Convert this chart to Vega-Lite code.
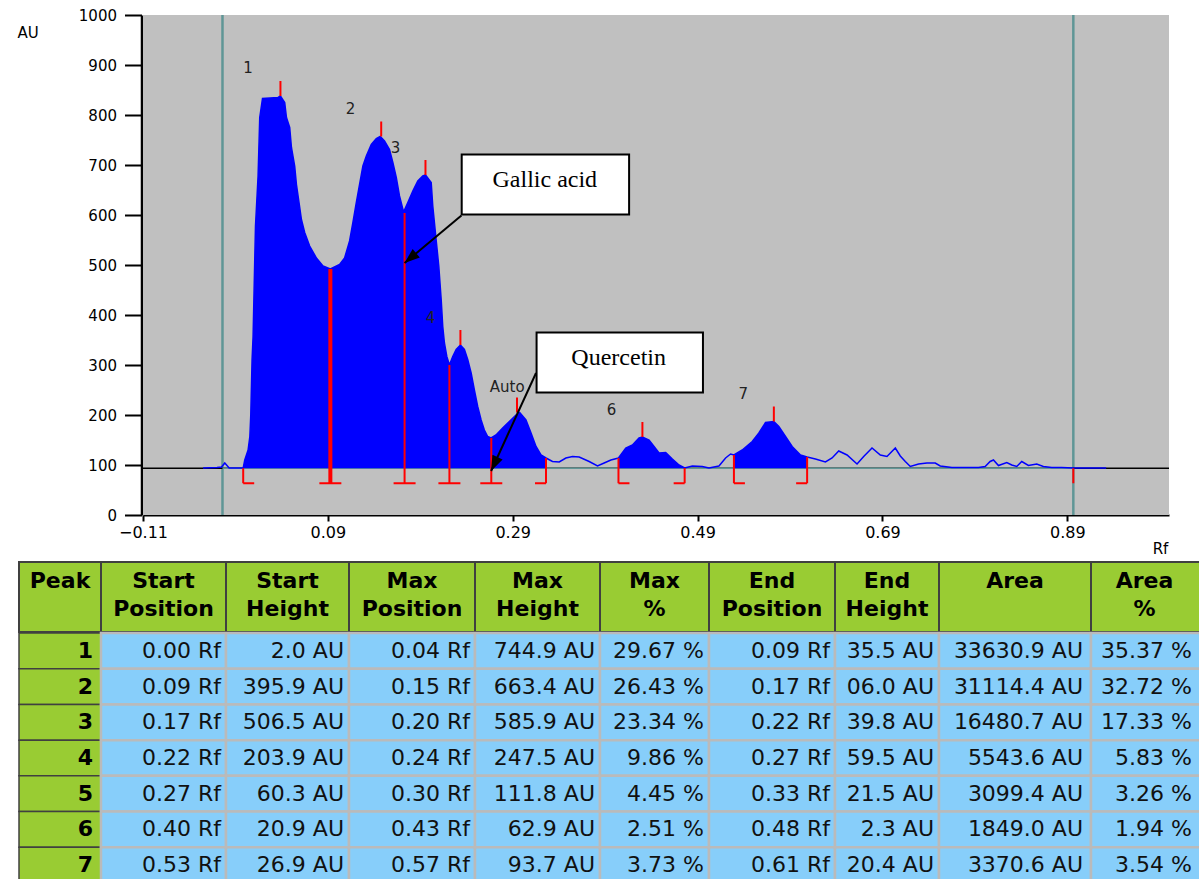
{
"$schema": "https://vega.github.io/schema/vega-lite/v6.json",
"autosize": "none",
"padding": 0,
"width": 1199,
"height": 879,
"background": "#ffffff",
"config": {
  "view": {"stroke": null},
  "axis": {"grid": false, "labelFont": "DejaVu Sans", "labelFontSize": 15, "labelColor": "#000", "domainColor": "#000", "tickColor": "#000", "titleFont": "DejaVu Sans", "titleFontSize": 15, "titleFontWeight": "normal", "titleColor": "#000", "labelFlush": false, "labelOverlap": false}
},
"datasets": {
  "sig": [
    {"rf":-0.045,"au":94},{"rf":-0.03,"au":95},{"rf":-0.025,"au":96},{"rf":-0.0215,"au":104},{"rf":-0.0196,"au":100},{"rf":-0.0168,"au":94},{"rf":-0.0034,"au":94},
    {"rf":-0.0016,"au":94,"g":"A"},{"rf":0.0001,"au":110,"g":"A"},{"rf":0.0037,"au":130,"g":"A"},{"rf":0.0056,"au":157,"g":"A"},{"rf":0.0066,"au":200,"g":"A"},{"rf":0.008,"au":310,"g":"A"},{"rf":0.0091,"au":357,"g":"A"},{"rf":0.0109,"au":511,"g":"A"},{"rf":0.0117,"au":578,"g":"A"},{"rf":0.0145,"au":678,"g":"A"},{"rf":0.0163,"au":795,"g":"A"},{"rf":0.0193,"au":833,"g":"A"},{"rf":0.0361,"au":835,"g":"A"},{"rf":0.0387,"au":838,"g":"A"},{"rf":0.0433,"au":825,"g":"A"},{"rf":0.0452,"au":795,"g":"A"},{"rf":0.0487,"au":775,"g":"A"},{"rf":0.0506,"au":735,"g":"A"},{"rf":0.0541,"au":698,"g":"A"},{"rf":0.056,"au":661,"g":"A"},{"rf":0.0588,"au":625,"g":"A"},{"rf":0.0614,"au":591,"g":"A"},{"rf":0.0649,"au":565,"g":"A"},{"rf":0.0703,"au":538,"g":"A"},{"rf":0.0776,"au":514,"g":"A"},{"rf":0.0847,"au":498,"g":"A"},{"rf":0.0927,"au":492,"g":"A"},
    {"rf":0.1027,"au":501,"g":"A"},{"rf":0.1081,"au":514,"g":"A"},{"rf":0.1135,"au":548,"g":"A"},{"rf":0.1171,"au":585,"g":"A"},{"rf":0.1208,"au":625,"g":"A"},{"rf":0.1243,"au":661,"g":"A"},{"rf":0.1279,"au":698,"g":"A"},{"rf":0.1316,"au":718,"g":"A"},{"rf":0.137,"au":741,"g":"A"},{"rf":0.1424,"au":753,"g":"A"},{"rf":0.1466,"au":757,"g":"A"},{"rf":0.1513,"au":748,"g":"A"},{"rf":0.1567,"au":731,"g":"A"},{"rf":0.1603,"au":705,"g":"A"},{"rf":0.164,"au":675,"g":"A"},{"rf":0.1675,"au":638,"g":"A"},{"rf":0.1719,"au":606,"g":"A"},
    {"rf":0.1765,"au":625,"g":"A"},{"rf":0.1819,"au":648,"g":"A"},{"rf":0.1873,"au":668,"g":"A"},{"rf":0.1927,"au":678,"g":"A"},{"rf":0.1956,"au":680,"g":"A"},{"rf":0.2018,"au":665,"g":"A"},{"rf":0.2035,"au":618,"g":"A"},{"rf":0.2071,"au":551,"g":"A"},{"rf":0.21,"au":498,"g":"A"},{"rf":0.2126,"au":431,"g":"A"},{"rf":0.2143,"au":377,"g":"A"},{"rf":0.2161,"au":344,"g":"A"},{"rf":0.2187,"au":317,"g":"A"},{"rf":0.2215,"au":300,"g":"A"},
    {"rf":0.2251,"au":317,"g":"A"},{"rf":0.2288,"au":331,"g":"A"},{"rf":0.2334,"au":340,"g":"A"},{"rf":0.2377,"au":331,"g":"A"},{"rf":0.2413,"au":311,"g":"A"},{"rf":0.245,"au":284,"g":"A"},{"rf":0.2485,"au":250,"g":"A"},{"rf":0.2521,"au":217,"g":"A"},{"rf":0.2558,"au":190,"g":"A"},{"rf":0.2593,"au":170,"g":"A"},{"rf":0.2629,"au":157,"g":"A"},{"rf":0.2666,"au":154,"g":"A"},
    {"rf":0.2719,"au":160,"g":"A"},{"rf":0.2791,"au":174,"g":"A"},{"rf":0.2863,"au":187,"g":"A"},{"rf":0.2935,"au":200,"g":"A"},{"rf":0.2975,"au":205,"g":"A"},{"rf":0.3043,"au":190,"g":"A"},{"rf":0.3098,"au":164,"g":"A"},{"rf":0.3152,"au":137,"g":"A"},{"rf":0.3206,"au":120,"g":"A"},{"rf":0.326,"au":114,"g":"A"},
    {"rf":0.333,"au":107},{"rf":0.3403,"au":106},{"rf":0.3475,"au":114},{"rf":0.3547,"au":117},{"rf":0.3619,"au":116},{"rf":0.3727,"au":107},{"rf":0.3817,"au":98},{"rf":0.3889,"au":104},{"rf":0.3962,"au":110},
    {"rf":0.4044,"au":114,"g":"B"},{"rf":0.4123,"au":134,"g":"B"},{"rf":0.4195,"au":140,"g":"B"},{"rf":0.4267,"au":154,"g":"B"},{"rf":0.4303,"au":156,"g":"B"},{"rf":0.4375,"au":150,"g":"B"},{"rf":0.4429,"au":137,"g":"B"},{"rf":0.4483,"au":124,"g":"B"},{"rf":0.4555,"au":125,"g":"B"},{"rf":0.4627,"au":112,"g":"B"},{"rf":0.4699,"au":100,"g":"B"},{"rf":0.476,"au":94,"g":"B"},
    {"rf":0.4843,"au":98},{"rf":0.4951,"au":97},{"rf":0.5023,"au":94},{"rf":0.5131,"au":98},{"rf":0.5203,"au":114},{"rf":0.5257,"au":122},
    {"rf":0.5293,"au":120,"g":"C"},{"rf":0.5383,"au":130,"g":"C"},{"rf":0.5491,"au":147,"g":"C"},{"rf":0.5563,"au":164,"g":"C"},{"rf":0.5635,"au":185,"g":"C"},{"rf":0.5725,"au":187,"g":"C"},{"rf":0.5779,"au":177,"g":"C"},{"rf":0.5851,"au":157,"g":"C"},{"rf":0.5923,"au":137,"g":"C"},{"rf":0.6013,"au":120,"g":"C"},{"rf":0.6085,"au":116,"g":"C"},
    {"rf":0.6175,"au":112},{"rf":0.6283,"au":106},{"rf":0.6355,"au":114},{"rf":0.6427,"au":128},{"rf":0.6517,"au":120},{"rf":0.6625,"au":102},{"rf":0.6697,"au":117},{"rf":0.6787,"au":134},{"rf":0.6877,"au":120},{"rf":0.6949,"au":117},{"rf":0.7039,"au":134},{"rf":0.7093,"au":118},{"rf":0.7147,"au":107},{"rf":0.7201,"au":97},{"rf":0.7291,"au":102},{"rf":0.7381,"au":104},{"rf":0.7471,"au":104},{"rf":0.7525,"au":98},{"rf":0.7651,"au":95},{"rf":0.7795,"au":95},{"rf":0.7939,"au":95},{"rf":0.8011,"au":97},{"rf":0.8065,"au":107},{"rf":0.8101,"au":110},{"rf":0.8155,"au":99},{"rf":0.8245,"au":105},{"rf":0.8299,"au":100},{"rf":0.8353,"au":97},{"rf":0.8407,"au":107},{"rf":0.8479,"au":99},{"rf":0.8569,"au":102},{"rf":0.8641,"au":97},{"rf":0.8731,"au":95},{"rf":0.8839,"au":95},{"rf":0.8965,"au":94},{"rf":0.932,"au":94}
  ],
  "bnd": [
    {"rf":-0.0016,"au":93.5,"kind":"start"},{"rf":0.0927,"au":492,"kind":"mid"},{"rf":0.173,"au":604,"kind":"mid"},{"rf":0.2215,"au":300,"kind":"mid"},{"rf":0.2668,"au":154,"kind":"mid"},{"rf":0.326,"au":114,"kind":"end"},{"rf":0.4044,"au":114,"kind":"start"},{"rf":0.476,"au":94,"kind":"end"},{"rf":0.5293,"au":120,"kind":"start"},{"rf":0.6085,"au":116,"kind":"end"},{"rf":0.8965,"au":93.5,"kind":"stop"}
  ],
  "pk": [
    {"rf":0.0387,"au":838},{"rf":0.1477,"au":757},{"rf":0.1956,"au":680},{"rf":0.2334,"au":340},{"rf":0.2946,"au":205},{"rf":0.4303,"au":156},{"rf":0.5725,"au":187}
  ],
  "lab": [
    {"t":"1","rf":0.0037,"au":895},{"t":"2","rf":0.1146,"au":813},{"t":"3","rf":0.1632,"au":735},{"t":"4","rf":0.201,"au":394},{"t":"Auto","rf":0.284,"au":257},{"t":"6","rf":0.397,"au":210},{"t":"7","rf":0.5393,"au":242}
  ],
  "ann": [
    {"name":"Gallic acid","bx1":0.2348,"bx2":0.4159,"by1":721,"by2":601,"tx":0.3247,"ty":671,"ax1":0.2345,"ay1":599,"ax2":0.173,"ay2":504},
    {"name":"Quercetin","bx1":0.3158,"bx2":0.4958,"by1":365,"by2":245,"tx":0.4046,"ty":314,"ax1":0.3152,"ay1":284,"ax2":0.2666,"ay2":88}
  ],
  "hdr": [
    {"col":"Peak","label":"Peak"},{"col":"Start Position","label":"Start\nPosition"},{"col":"Start Height","label":"Start\nHeight"},{"col":"Max Position","label":"Max\nPosition"},{"col":"Max Height","label":"Max\nHeight"},{"col":"Max %","label":"Max\n%"},{"col":"End Position","label":"End\nPosition"},{"col":"End Height","label":"End\nHeight"},{"col":"Area","label":"Area"},{"col":"Area %","label":"Area\n%"}
  ],
  "tbl": [
    {"Peak":"1","Start Position":"0.00 Rf","Start Height":"2.0 AU","Max Position":"0.04 Rf","Max Height":"744.9 AU","Max %":"29.67 %","End Position":"0.09 Rf","End Height":"35.5 AU","Area":"33630.9 AU","Area %":"35.37 %"},
    {"Peak":"2","Start Position":"0.09 Rf","Start Height":"395.9 AU","Max Position":"0.15 Rf","Max Height":"663.4 AU","Max %":"26.43 %","End Position":"0.17 Rf","End Height":"06.0 AU","Area":"31114.4 AU","Area %":"32.72 %"},
    {"Peak":"3","Start Position":"0.17 Rf","Start Height":"506.5 AU","Max Position":"0.20 Rf","Max Height":"585.9 AU","Max %":"23.34 %","End Position":"0.22 Rf","End Height":"39.8 AU","Area":"16480.7 AU","Area %":"17.33 %"},
    {"Peak":"4","Start Position":"0.22 Rf","Start Height":"203.9 AU","Max Position":"0.24 Rf","Max Height":"247.5 AU","Max %":"9.86 %","End Position":"0.27 Rf","End Height":"59.5 AU","Area":"5543.6 AU","Area %":"5.83 %"},
    {"Peak":"5","Start Position":"0.27 Rf","Start Height":"60.3 AU","Max Position":"0.30 Rf","Max Height":"111.8 AU","Max %":"4.45 %","End Position":"0.33 Rf","End Height":"21.5 AU","Area":"3099.4 AU","Area %":"3.26 %"},
    {"Peak":"6","Start Position":"0.40 Rf","Start Height":"20.9 AU","Max Position":"0.43 Rf","Max Height":"62.9 AU","Max %":"2.51 %","End Position":"0.48 Rf","End Height":"2.3 AU","Area":"1849.0 AU","Area %":"1.94 %"},
    {"Peak":"7","Start Position":"0.53 Rf","Start Height":"26.9 AU","Max Position":"0.57 Rf","Max Height":"93.7 AU","Max %":"3.73 %","End Position":"0.61 Rf","End Height":"20.4 AU","Area":"3370.6 AU","Area %":"3.54 %"}
  ]
},
"layer": [
  {
    "layer": [
      {"data": {"values": [{}]}, "mark": {"type": "rect", "fill": "#c0c0c0"},
       "encoding": {
         "x": {"datum": -0.11, "type": "quantitative", "scale": {"domain": [-0.11, 1.0], "range": [143, 1169], "nice": false, "zero": false},
               "axis": {"orient": "bottom", "offset": -364, "values": [-0.11, 0.09, 0.29, 0.49, 0.69, 0.89], "format": ".2f", "tickSize": 6, "tickWidth": 2, "domainWidth": 2, "labelPadding": 3, "labelFontSize": 16, "title": "Rf", "titleAngle": 0, "titleX": 1160, "titleY": 33, "titleAlign": "center", "titleBaseline": "middle"}},
         "x2": {"datum": 1.0},
         "y": {"datum": 0, "type": "quantitative", "scale": {"domain": [0, 1000], "range": [515, 15], "nice": false, "zero": false},
               "axis": {"orient": "left", "offset": -141.5, "values": [0, 100, 200, 300, 400, 500, 600, 700, 800, 900, 1000], "format": "d", "tickSize": 17, "tickWidth": 2, "domainWidth": 2.5, "labelPadding": 8, "labelFontSize": 15, "title": "AU", "titleAngle": 0, "titleX": -114, "titleY": 32, "titleAlign": "center", "titleBaseline": "middle"}},
         "y2": {"datum": 1000}
       }},
      {"data": {"values": [{"rf": -0.024}, {"rf": 0.8965}]}, "mark": {"type": "rule", "color": "#5f9696", "strokeWidth": 2.5},
       "encoding": {"x": {"field": "rf", "type": "quantitative"}, "y": {"datum": 0, "type": "quantitative"}, "y2": {"datum": 1000}}},
      {"data": {"values": [{}]}, "mark": {"type": "rule", "color": "#000000", "strokeWidth": 1.5},
       "encoding": {"x": {"datum": -0.11, "type": "quantitative"}, "x2": {"datum": 1.0}, "y": {"datum": 93.5, "type": "quantitative"}}},
      {"data": {"values": [{}]}, "mark": {"type": "rule", "color": "#5f9696", "strokeWidth": 1.5},
       "encoding": {"x": {"datum": -0.024, "type": "quantitative"}, "x2": {"datum": 0.8965}, "y": {"datum": 93.5, "type": "quantitative"}}},
      {"data": {"name": "sig"}, "transform": [{"filter": "isValid(datum.g)"}], "mark": {"type": "area", "color": "#0000ff", "opacity": 1},
       "encoding": {"x": {"field": "rf", "type": "quantitative"}, "y": {"field": "au", "type": "quantitative"}, "y2": {"datum": 93.5}, "detail": {"field": "g"}}},
      {"data": {"name": "sig"}, "mark": {"type": "line", "color": "#0000ff", "strokeWidth": 1.5},
       "encoding": {"x": {"field": "rf", "type": "quantitative"}, "y": {"field": "au", "type": "quantitative"}}},
      {"data": {"name": "bnd"}, "mark": {"type": "rule", "color": "#ff0000", "strokeWidth": 2, "y2Offset": 15},
       "encoding": {"x": {"field": "rf", "type": "quantitative"}, "y": {"field": "au", "type": "quantitative"}, "y2": {"datum": 93.5}}},
      {"data": {"name": "bnd"}, "transform": [{"filter": "datum.rf > 0.09 && datum.rf < 0.1"}], "mark": {"type": "rule", "color": "#ff0000", "strokeWidth": 4, "y2Offset": 15},
       "encoding": {"x": {"field": "rf", "type": "quantitative"}, "y": {"field": "au", "type": "quantitative"}, "y2": {"datum": 93.5}}},
      {"data": {"name": "bnd"}, "transform": [{"filter": "datum.kind !== 'stop'"}], "mark": {"type": "point", "filled": false, "stroke": "#ff0000", "strokeWidth": 2, "size": 484, "opacity": 1, "yOffset": 15},
       "encoding": {"x": {"field": "rf", "type": "quantitative"}, "y": {"datum": 93.5, "type": "quantitative"},
                    "shape": {"field": "kind", "type": "nominal", "scale": {"domain": ["start", "mid", "end"], "range": ["M0,0H1", "M-1,0H1", "M-1,0H0"]}, "legend": null}}},
      {"data": {"name": "pk"}, "mark": {"type": "point", "filled": false, "stroke": "#ff0000", "strokeWidth": 2, "size": 225, "opacity": 1, "shape": "M0,0V-2"},
       "encoding": {"x": {"field": "rf", "type": "quantitative"}, "y": {"field": "au", "type": "quantitative"}}},
      {"data": {"name": "lab"}, "mark": {"type": "text", "font": "DejaVu Sans", "fontSize": 15, "color": "#222222"},
       "encoding": {"x": {"field": "rf", "type": "quantitative"}, "y": {"field": "au", "type": "quantitative"}, "text": {"field": "t"}}},
      {"data": {"name": "ann"}, "mark": {"type": "rule", "color": "#000000", "strokeWidth": 2},
       "encoding": {"x": {"field": "ax1", "type": "quantitative"}, "x2": {"field": "ax2"}, "y": {"field": "ay1", "type": "quantitative"}, "y2": {"field": "ay2"}}},
      {"data": {"name": "ann"}, "transform": [{"filter": "datum.name === 'Gallic acid'"}], "mark": {"type": "point", "filled": true, "fill": "#000000", "stroke": null, "size": 256, "opacity": 1, "angle": 230, "shape": "M0,0L-0.7,1.9L0.7,1.9Z"},
       "encoding": {"x": {"field": "ax2", "type": "quantitative"}, "y": {"field": "ay2", "type": "quantitative"}}},
      {"data": {"name": "ann"}, "transform": [{"filter": "datum.name === 'Quercetin'"}], "mark": {"type": "point", "filled": true, "fill": "#000000", "stroke": null, "size": 256, "opacity": 1, "angle": 205, "shape": "M0,0L-0.7,1.9L0.7,1.9Z"},
       "encoding": {"x": {"field": "ax2", "type": "quantitative"}, "y": {"field": "ay2", "type": "quantitative"}}},
      {"data": {"name": "ann"}, "mark": {"type": "rect", "fill": "#ffffff", "stroke": "#000000", "strokeWidth": 2},
       "encoding": {"x": {"field": "bx1", "type": "quantitative"}, "x2": {"field": "bx2"}, "y": {"field": "by1", "type": "quantitative"}, "y2": {"field": "by2"}}},
      {"data": {"name": "ann"}, "mark": {"type": "text", "font": "Liberation Serif", "fontSize": 24, "color": "#000000"},
       "encoding": {"x": {"field": "tx", "type": "quantitative"}, "y": {"field": "ty", "type": "quantitative"}, "text": {"field": "name"}}}
    ]
  },
  {
    "layer": [
      {"data": {"name": "hdr"}, "transform": [{"filter": "datum.col === 'Peak'"}],
       "encoding": {"x": {"field": "col", "type": "nominal", "axis": null, "scale": {"domain": ["Peak"], "range": [19, 101]}}, "y": {"datum": "H", "type": "nominal", "axis": null, "scale": {"domain": ["H"], "range": [562, 632]}}},
       "layer": [
         {"mark": {"type": "rect", "fill": "#99cc33", "stroke": "#404040", "strokeWidth": 2}},
         {"mark": {"type": "text", "font": "DejaVu Sans", "fontWeight": "bold", "fontSize": 22, "baseline": "top", "dy": 9, "lineBreak": "\n", "lineHeight": 28, "color": "#000000"}, "encoding": {"text": {"field": "label"}, "y": {"datum": "H", "type": "nominal", "axis": null, "bandPosition": 0}}}
       ]},
      {"data": {"name": "tbl"},
       "encoding": {"x": {"datum": "Peak", "type": "nominal", "axis": null, "scale": {"domain": ["Peak"], "range": [19, 101]}}, "y": {"field": "Peak", "type": "nominal", "axis": null, "scale": {"domain": ["1","2","3","4","5","6","7"], "range": [633, 883]}}},
       "layer": [
         {"mark": {"type": "rect", "fill": "#99cc33", "stroke": "#404040", "strokeWidth": 1.5}},
         {"mark": {"type": "text", "align": "right", "dx": -8, "font": "DejaVu Sans", "fontWeight": "bold", "fontSize": 22, "color": "#000000"}, "encoding": {"text": {"field": "Peak"}, "x": {"datum": "Peak", "type": "nominal", "axis": null, "bandPosition": 1}}}
       ]}
    ],
    "resolve": {"scale": {"y": "independent"}}
  },
  {
    "layer": [
      {"data": {"name": "hdr"}, "transform": [{"filter": "datum.col === 'Start Position'"}],
       "encoding": {"x": {"field": "col", "type": "nominal", "axis": null, "scale": {"domain": ["Start Position"], "range": [101, 226]}}, "y": {"datum": "H", "type": "nominal", "axis": null, "scale": {"domain": ["H"], "range": [562, 632]}}},
       "layer": [
         {"mark": {"type": "rect", "fill": "#99cc33", "stroke": "#404040", "strokeWidth": 2}},
         {"mark": {"type": "text", "font": "DejaVu Sans", "fontWeight": "bold", "fontSize": 22, "baseline": "top", "dy": 9, "lineBreak": "\n", "lineHeight": 28, "color": "#000000"}, "encoding": {"text": {"field": "label"}, "y": {"datum": "H", "type": "nominal", "axis": null, "bandPosition": 0}}}
       ]},
      {"data": {"name": "tbl"},
       "encoding": {"x": {"datum": "Start Position", "type": "nominal", "axis": null, "scale": {"domain": ["Start Position"], "range": [101, 226]}}, "y": {"field": "Peak", "type": "nominal", "axis": null, "scale": {"domain": ["1","2","3","4","5","6","7"], "range": [633, 883]}}},
       "layer": [
         {"mark": {"type": "rect", "fill": "#87cefa", "stroke": "#bababa", "strokeWidth": 2.5}},
         {"mark": {"type": "text", "align": "right", "dx": -5, "font": "DejaVu Sans", "fontSize": 22, "color": "#111111"}, "encoding": {"text": {"field": "Start Position"}, "x": {"datum": "Start Position", "type": "nominal", "axis": null, "bandPosition": 1}}}
       ]}
    ],
    "resolve": {"scale": {"y": "independent"}}
  },
  {
    "layer": [
      {"data": {"name": "hdr"}, "transform": [{"filter": "datum.col === 'Start Height'"}],
       "encoding": {"x": {"field": "col", "type": "nominal", "axis": null, "scale": {"domain": ["Start Height"], "range": [226, 349]}}, "y": {"datum": "H", "type": "nominal", "axis": null, "scale": {"domain": ["H"], "range": [562, 632]}}},
       "layer": [
         {"mark": {"type": "rect", "fill": "#99cc33", "stroke": "#404040", "strokeWidth": 2}},
         {"mark": {"type": "text", "font": "DejaVu Sans", "fontWeight": "bold", "fontSize": 22, "baseline": "top", "dy": 9, "lineBreak": "\n", "lineHeight": 28, "color": "#000000"}, "encoding": {"text": {"field": "label"}, "y": {"datum": "H", "type": "nominal", "axis": null, "bandPosition": 0}}}
       ]},
      {"data": {"name": "tbl"},
       "encoding": {"x": {"datum": "Start Height", "type": "nominal", "axis": null, "scale": {"domain": ["Start Height"], "range": [226, 349]}}, "y": {"field": "Peak", "type": "nominal", "axis": null, "scale": {"domain": ["1","2","3","4","5","6","7"], "range": [633, 883]}}},
       "layer": [
         {"mark": {"type": "rect", "fill": "#87cefa", "stroke": "#bababa", "strokeWidth": 2.5}},
         {"mark": {"type": "text", "align": "right", "dx": -5, "font": "DejaVu Sans", "fontSize": 22, "color": "#111111"}, "encoding": {"text": {"field": "Start Height"}, "x": {"datum": "Start Height", "type": "nominal", "axis": null, "bandPosition": 1}}}
       ]}
    ],
    "resolve": {"scale": {"y": "independent"}}
  },
  {
    "layer": [
      {"data": {"name": "hdr"}, "transform": [{"filter": "datum.col === 'Max Position'"}],
       "encoding": {"x": {"field": "col", "type": "nominal", "axis": null, "scale": {"domain": ["Max Position"], "range": [349, 475]}}, "y": {"datum": "H", "type": "nominal", "axis": null, "scale": {"domain": ["H"], "range": [562, 632]}}},
       "layer": [
         {"mark": {"type": "rect", "fill": "#99cc33", "stroke": "#404040", "strokeWidth": 2}},
         {"mark": {"type": "text", "font": "DejaVu Sans", "fontWeight": "bold", "fontSize": 22, "baseline": "top", "dy": 9, "lineBreak": "\n", "lineHeight": 28, "color": "#000000"}, "encoding": {"text": {"field": "label"}, "y": {"datum": "H", "type": "nominal", "axis": null, "bandPosition": 0}}}
       ]},
      {"data": {"name": "tbl"},
       "encoding": {"x": {"datum": "Max Position", "type": "nominal", "axis": null, "scale": {"domain": ["Max Position"], "range": [349, 475]}}, "y": {"field": "Peak", "type": "nominal", "axis": null, "scale": {"domain": ["1","2","3","4","5","6","7"], "range": [633, 883]}}},
       "layer": [
         {"mark": {"type": "rect", "fill": "#87cefa", "stroke": "#bababa", "strokeWidth": 2.5}},
         {"mark": {"type": "text", "align": "right", "dx": -5, "font": "DejaVu Sans", "fontSize": 22, "color": "#111111"}, "encoding": {"text": {"field": "Max Position"}, "x": {"datum": "Max Position", "type": "nominal", "axis": null, "bandPosition": 1}}}
       ]}
    ],
    "resolve": {"scale": {"y": "independent"}}
  },
  {
    "layer": [
      {"data": {"name": "hdr"}, "transform": [{"filter": "datum.col === 'Max Height'"}],
       "encoding": {"x": {"field": "col", "type": "nominal", "axis": null, "scale": {"domain": ["Max Height"], "range": [475, 600]}}, "y": {"datum": "H", "type": "nominal", "axis": null, "scale": {"domain": ["H"], "range": [562, 632]}}},
       "layer": [
         {"mark": {"type": "rect", "fill": "#99cc33", "stroke": "#404040", "strokeWidth": 2}},
         {"mark": {"type": "text", "font": "DejaVu Sans", "fontWeight": "bold", "fontSize": 22, "baseline": "top", "dy": 9, "lineBreak": "\n", "lineHeight": 28, "color": "#000000"}, "encoding": {"text": {"field": "label"}, "y": {"datum": "H", "type": "nominal", "axis": null, "bandPosition": 0}}}
       ]},
      {"data": {"name": "tbl"},
       "encoding": {"x": {"datum": "Max Height", "type": "nominal", "axis": null, "scale": {"domain": ["Max Height"], "range": [475, 600]}}, "y": {"field": "Peak", "type": "nominal", "axis": null, "scale": {"domain": ["1","2","3","4","5","6","7"], "range": [633, 883]}}},
       "layer": [
         {"mark": {"type": "rect", "fill": "#87cefa", "stroke": "#bababa", "strokeWidth": 2.5}},
         {"mark": {"type": "text", "align": "right", "dx": -5, "font": "DejaVu Sans", "fontSize": 22, "color": "#111111"}, "encoding": {"text": {"field": "Max Height"}, "x": {"datum": "Max Height", "type": "nominal", "axis": null, "bandPosition": 1}}}
       ]}
    ],
    "resolve": {"scale": {"y": "independent"}}
  },
  {
    "layer": [
      {"data": {"name": "hdr"}, "transform": [{"filter": "datum.col === 'Max %'"}],
       "encoding": {"x": {"field": "col", "type": "nominal", "axis": null, "scale": {"domain": ["Max %"], "range": [600, 709]}}, "y": {"datum": "H", "type": "nominal", "axis": null, "scale": {"domain": ["H"], "range": [562, 632]}}},
       "layer": [
         {"mark": {"type": "rect", "fill": "#99cc33", "stroke": "#404040", "strokeWidth": 2}},
         {"mark": {"type": "text", "font": "DejaVu Sans", "fontWeight": "bold", "fontSize": 22, "baseline": "top", "dy": 9, "lineBreak": "\n", "lineHeight": 28, "color": "#000000"}, "encoding": {"text": {"field": "label"}, "y": {"datum": "H", "type": "nominal", "axis": null, "bandPosition": 0}}}
       ]},
      {"data": {"name": "tbl"},
       "encoding": {"x": {"datum": "Max %", "type": "nominal", "axis": null, "scale": {"domain": ["Max %"], "range": [600, 709]}}, "y": {"field": "Peak", "type": "nominal", "axis": null, "scale": {"domain": ["1","2","3","4","5","6","7"], "range": [633, 883]}}},
       "layer": [
         {"mark": {"type": "rect", "fill": "#87cefa", "stroke": "#bababa", "strokeWidth": 2.5}},
         {"mark": {"type": "text", "align": "right", "dx": -5, "font": "DejaVu Sans", "fontSize": 22, "color": "#111111"}, "encoding": {"text": {"field": "Max %"}, "x": {"datum": "Max %", "type": "nominal", "axis": null, "bandPosition": 1}}}
       ]}
    ],
    "resolve": {"scale": {"y": "independent"}}
  },
  {
    "layer": [
      {"data": {"name": "hdr"}, "transform": [{"filter": "datum.col === 'End Position'"}],
       "encoding": {"x": {"field": "col", "type": "nominal", "axis": null, "scale": {"domain": ["End Position"], "range": [709, 835]}}, "y": {"datum": "H", "type": "nominal", "axis": null, "scale": {"domain": ["H"], "range": [562, 632]}}},
       "layer": [
         {"mark": {"type": "rect", "fill": "#99cc33", "stroke": "#404040", "strokeWidth": 2}},
         {"mark": {"type": "text", "font": "DejaVu Sans", "fontWeight": "bold", "fontSize": 22, "baseline": "top", "dy": 9, "lineBreak": "\n", "lineHeight": 28, "color": "#000000"}, "encoding": {"text": {"field": "label"}, "y": {"datum": "H", "type": "nominal", "axis": null, "bandPosition": 0}}}
       ]},
      {"data": {"name": "tbl"},
       "encoding": {"x": {"datum": "End Position", "type": "nominal", "axis": null, "scale": {"domain": ["End Position"], "range": [709, 835]}}, "y": {"field": "Peak", "type": "nominal", "axis": null, "scale": {"domain": ["1","2","3","4","5","6","7"], "range": [633, 883]}}},
       "layer": [
         {"mark": {"type": "rect", "fill": "#87cefa", "stroke": "#bababa", "strokeWidth": 2.5}},
         {"mark": {"type": "text", "align": "right", "dx": -5, "font": "DejaVu Sans", "fontSize": 22, "color": "#111111"}, "encoding": {"text": {"field": "End Position"}, "x": {"datum": "End Position", "type": "nominal", "axis": null, "bandPosition": 1}}}
       ]}
    ],
    "resolve": {"scale": {"y": "independent"}}
  },
  {
    "layer": [
      {"data": {"name": "hdr"}, "transform": [{"filter": "datum.col === 'End Height'"}],
       "encoding": {"x": {"field": "col", "type": "nominal", "axis": null, "scale": {"domain": ["End Height"], "range": [835, 939]}}, "y": {"datum": "H", "type": "nominal", "axis": null, "scale": {"domain": ["H"], "range": [562, 632]}}},
       "layer": [
         {"mark": {"type": "rect", "fill": "#99cc33", "stroke": "#404040", "strokeWidth": 2}},
         {"mark": {"type": "text", "font": "DejaVu Sans", "fontWeight": "bold", "fontSize": 22, "baseline": "top", "dy": 9, "lineBreak": "\n", "lineHeight": 28, "color": "#000000"}, "encoding": {"text": {"field": "label"}, "y": {"datum": "H", "type": "nominal", "axis": null, "bandPosition": 0}}}
       ]},
      {"data": {"name": "tbl"},
       "encoding": {"x": {"datum": "End Height", "type": "nominal", "axis": null, "scale": {"domain": ["End Height"], "range": [835, 939]}}, "y": {"field": "Peak", "type": "nominal", "axis": null, "scale": {"domain": ["1","2","3","4","5","6","7"], "range": [633, 883]}}},
       "layer": [
         {"mark": {"type": "rect", "fill": "#87cefa", "stroke": "#bababa", "strokeWidth": 2.5}},
         {"mark": {"type": "text", "align": "right", "dx": -5, "font": "DejaVu Sans", "fontSize": 22, "color": "#111111"}, "encoding": {"text": {"field": "End Height"}, "x": {"datum": "End Height", "type": "nominal", "axis": null, "bandPosition": 1}}}
       ]}
    ],
    "resolve": {"scale": {"y": "independent"}}
  },
  {
    "layer": [
      {"data": {"name": "hdr"}, "transform": [{"filter": "datum.col === 'Area'"}],
       "encoding": {"x": {"field": "col", "type": "nominal", "axis": null, "scale": {"domain": ["Area"], "range": [939, 1091]}}, "y": {"datum": "H", "type": "nominal", "axis": null, "scale": {"domain": ["H"], "range": [562, 632]}}},
       "layer": [
         {"mark": {"type": "rect", "fill": "#99cc33", "stroke": "#404040", "strokeWidth": 2}},
         {"mark": {"type": "text", "font": "DejaVu Sans", "fontWeight": "bold", "fontSize": 22, "baseline": "top", "dy": 9, "lineBreak": "\n", "lineHeight": 28, "color": "#000000"}, "encoding": {"text": {"field": "label"}, "y": {"datum": "H", "type": "nominal", "axis": null, "bandPosition": 0}}}
       ]},
      {"data": {"name": "tbl"},
       "encoding": {"x": {"datum": "Area", "type": "nominal", "axis": null, "scale": {"domain": ["Area"], "range": [939, 1091]}}, "y": {"field": "Peak", "type": "nominal", "axis": null, "scale": {"domain": ["1","2","3","4","5","6","7"], "range": [633, 883]}}},
       "layer": [
         {"mark": {"type": "rect", "fill": "#87cefa", "stroke": "#bababa", "strokeWidth": 2.5}},
         {"mark": {"type": "text", "align": "right", "dx": -8, "font": "DejaVu Sans", "fontSize": 22, "color": "#111111"}, "encoding": {"text": {"field": "Area"}, "x": {"datum": "Area", "type": "nominal", "axis": null, "bandPosition": 1}}}
       ]}
    ],
    "resolve": {"scale": {"y": "independent"}}
  },
  {
    "layer": [
      {"data": {"name": "hdr"}, "transform": [{"filter": "datum.col === 'Area %'"}],
       "encoding": {"x": {"field": "col", "type": "nominal", "axis": null, "scale": {"domain": ["Area %"], "range": [1091, 1210]}}, "y": {"datum": "H", "type": "nominal", "axis": null, "scale": {"domain": ["H"], "range": [562, 632]}}},
       "layer": [
         {"mark": {"type": "rect", "fill": "#99cc33", "stroke": "#404040", "strokeWidth": 2}},
         {"mark": {"type": "text", "font": "DejaVu Sans", "fontWeight": "bold", "fontSize": 22, "baseline": "top", "dy": 9, "dx": -6, "lineBreak": "\n", "lineHeight": 28, "color": "#000000"}, "encoding": {"text": {"field": "label"}, "y": {"datum": "H", "type": "nominal", "axis": null, "bandPosition": 0}}}
       ]},
      {"data": {"name": "tbl"},
       "encoding": {"x": {"datum": "Area %", "type": "nominal", "axis": null, "scale": {"domain": ["Area %"], "range": [1091, 1210]}}, "y": {"field": "Peak", "type": "nominal", "axis": null, "scale": {"domain": ["1","2","3","4","5","6","7"], "range": [633, 883]}}},
       "layer": [
         {"mark": {"type": "rect", "fill": "#87cefa", "stroke": "#bababa", "strokeWidth": 2.5}},
         {"mark": {"type": "text", "align": "right", "dx": -18, "font": "DejaVu Sans", "fontSize": 22, "color": "#111111"}, "encoding": {"text": {"field": "Area %"}, "x": {"datum": "Area %", "type": "nominal", "axis": null, "bandPosition": 1}}}
       ]}
    ],
    "resolve": {"scale": {"y": "independent"}}
  }
],
"resolve": {"scale": {"x": "independent", "y": "independent"}}
}
